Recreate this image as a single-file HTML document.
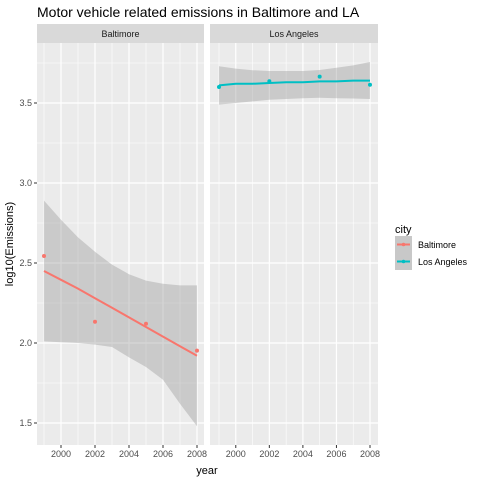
<!DOCTYPE html>
<html><head><meta charset="utf-8"><style>
body{margin:0;background:#fff;font-family:"Liberation Sans",Arial,sans-serif}
</style></head><body>
<svg id="chart" width="480" height="480" xmlns="http://www.w3.org/2000/svg" font-family="Liberation Sans, Arial, sans-serif">
<text x="37" y="17" font-size="14" fill="#000">Motor vehicle related emissions in Baltimore and LA</text>
<g id="panels"></g>
<text x="207" y="474" font-size="11" text-anchor="middle" fill="#000">year</text>
<text transform="translate(13,244) rotate(-90)" font-size="11" text-anchor="middle" fill="#000">log10(Emissions)</text>
<g>
<text x="395" y="233" font-size="11" fill="#000">city</text>
<rect x="395" y="236" width="17" height="17" fill="#c8c8c8"/>
<rect x="395" y="253" width="17" height="17" fill="#c8c8c8"/>
<line x1="397" x2="410" y1="244.5" y2="244.5" stroke="#F8766D" stroke-width="2"/>
<circle cx="403.5" cy="244.5" r="1.8" fill="#F8766D"/>
<line x1="397" x2="410" y1="261.5" y2="261.5" stroke="#00BFC4" stroke-width="2"/>
<circle cx="403.5" cy="261.5" r="1.8" fill="#00BFC4"/>
<text x="418" y="248" font-size="9" fill="#000">Baltimore</text>
<text x="418" y="265" font-size="9" fill="#000">Los Angeles</text>
</g>
</svg>
<script>
const years = [1999,2000,2001,2002,2003,2004,2005,2006,2007,2008];
const pointYears = [1999,2002,2005,2008];
const baltPoints = [2.544,2.133,2.12,1.952];
const laPoints = [3.60,3.636,3.665,3.614];
const baltFit = [2.45,2.395,2.34,2.28,2.22,2.16,2.10,2.04,1.98,1.92];
const baltUpper = [2.89,2.77,2.66,2.57,2.49,2.43,2.39,2.37,2.36,2.36];
const baltLower = [2.01,2.005,2.00,1.99,1.975,1.91,1.85,1.77,1.62,1.48];
const laFit = [3.61,3.62,3.62,3.625,3.63,3.63,3.635,3.635,3.64,3.64];
const laUpper = [3.73,3.715,3.705,3.70,3.70,3.70,3.706,3.72,3.735,3.756];
const laLower = [3.49,3.50,3.51,3.52,3.525,3.53,3.533,3.53,3.528,3.525];
const yTicks = [1.5,2.0,2.5,3.0,3.5];
const yTickLabels = ["1.5","2.0","2.5","3.0","3.5"];
const xTicks = [2000,2002,2004,2006,2008];
const cityNames = ["Baltimore","Los Angeles"];

const NS="http://www.w3.org/2000/svg";
const g=document.getElementById('panels');
const topY=43,botY=445;
const y=v=>423-(v-1.5)*160;
function mk(tag,attrs,parent){const e=document.createElementNS(NS,tag);for(const k in attrs)e.setAttribute(k,attrs[k]);(parent||g).appendChild(e);return e;}
const panels=[{x0:37,x1:204,px0:44,px1:197},{x0:210,x1:378,px0:219,px1:370}];
const series=[
 {pts:baltPoints,fit:baltFit,up:baltUpper,lo:baltLower,col:"#F8766D"},
 {pts:laPoints,fit:laFit,up:laUpper,lo:laLower,col:"#00BFC4"}];
panels.forEach((p,i)=>{
 const x=v=>p.px0+(v-1999)*(p.px1-p.px0)/9;
 const bg=mk('rect',{x:p.x0,y:topY,width:p.x1-p.x0,height:botY-topY,fill:'#ebebeb'});
 
 
 const strip=mk('rect',{x:p.x0,y:24,width:p.x1-p.x0,height:19,fill:'#d9d9d9'});
 
 
 const st=mk('text',{x:(p.x0+p.x1)/2,y:37,'font-size':9,'text-anchor':'middle',fill:'#1a1a1a'});
 st.textContent=cityNames[i];
 
 
 for(let t=1.75;t<3.9;t+=0.5){mk('line',{x1:p.x0,x2:p.x1,y1:y(t),y2:y(t),stroke:'#fff','stroke-width':0.6});}
 for(let t=1999;t<=2008;t+=2){mk('line',{x1:x(t),x2:x(t),y1:topY,y2:botY,stroke:'#fff','stroke-width':0.6});}
 yTicks.forEach(t=>mk('line',{x1:p.x0,x2:p.x1,y1:y(t),y2:y(t),stroke:'#fff','stroke-width':1.2}));
 xTicks.forEach(t=>{
  mk('line',{x1:x(t),x2:x(t),y1:topY,y2:botY,stroke:'#fff','stroke-width':1.2});
  mk('line',{x1:x(t),x2:x(t),y1:botY,y2:botY+3,stroke:'#333','stroke-width':1});
  const tl=mk('text',{x:x(t),y:botY+12,'font-size':9,'text-anchor':'middle',fill:'#4d4d4d'});
  tl.textContent=t;
  
  
 });
 const s=series[i];
 let d=years.map((yr,k)=>(k?'L':'M')+x(yr)+','+y(s.up[k])).join('');
 for(let k=years.length-1;k>=0;k--)d+='L'+x(years[k])+','+y(s.lo[k]);
 const band=mk('path',{d:d+'Z',fill:'#999',opacity:0.4});
 
 
 const line=mk('polyline',{points:years.map((yr,k)=>x(yr)+','+y(s.fit[k])).join(' '),fill:'none',stroke:s.col,'stroke-width':2});
 
 
 pointYears.forEach((yr,k)=>{
  const c=mk('circle',{cx:x(yr),cy:y(s.pts[k]),r:2,fill:s.col});
  
  
 });
});
yTicks.forEach((t,k)=>{
 mk('line',{x1:34,x2:37,y1:y(t),y2:y(t),stroke:'#333','stroke-width':1});
 const tl=mk('text',{x:32,y:y(t)+3,'font-size':9,'text-anchor':'end',fill:'#4d4d4d'});
 tl.textContent=yTickLabels[k];
 
 
});
</script>
</body></html>
